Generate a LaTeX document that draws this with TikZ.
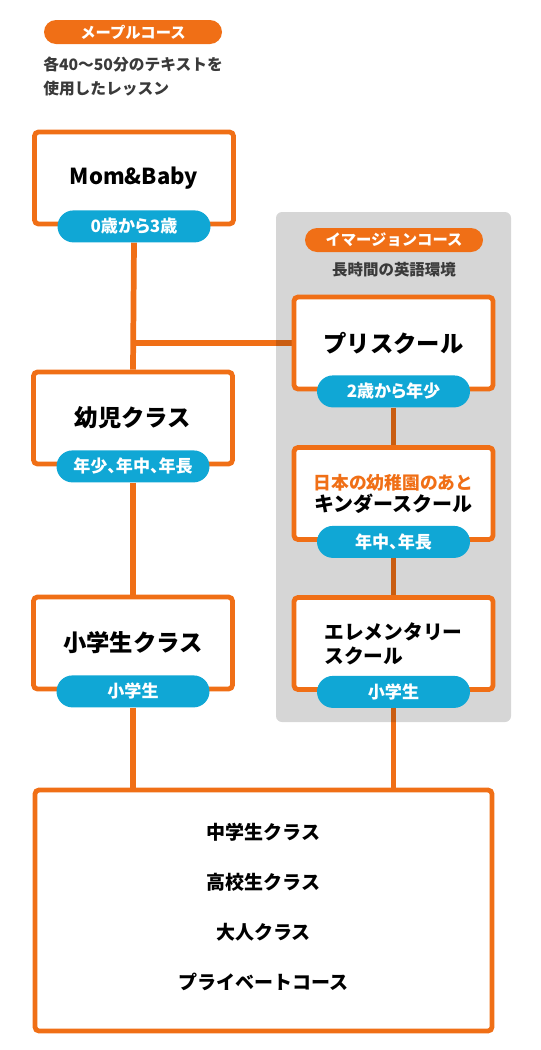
\documentclass[tikz,border=0pt]{standalone}
\usepackage{fontspec}
\setmainfont{Noto Sans CJK JP}
\usetikzlibrary{positioning}
\definecolor{maple}{HTML}{F06F16}
\definecolor{agebar}{HTML}{10A7D5}
\definecolor{notegray}{HTML}{3A3A3A}
\pgfdeclarelayer{lines}
\pgfdeclarelayer{panel}
\pgfsetlayers{lines,panel,main}
\begin{document}
\begin{tikzpicture}[x=0.75pt,y=-0.75pt,
        course/.style={draw=maple,line width=3.6pt,fill=white,rounded corners=3pt,
            minimum width=149.25pt,minimum height=69pt,inner sep=0pt,align=center,
            font=\fontsize{17.5}{22}\selectfont\bfseries},
        age/.style={fill=agebar,text=white,rounded corners=12pt,minimum width=114.75pt,
            minimum height=24pt,inner sep=0pt,
            font=\fontsize{12.8}{15}\selectfont\bfseries\addfontfeature{RawFeature=+palt}},
        tag/.style={fill=maple,text=white,rounded corners=9pt,minimum width=133.5pt,
            minimum height=18pt,inner sep=0pt,font=\fontsize{11.5}{13}\selectfont\bfseries},
        note/.style={text=notegray,inner sep=0pt,font=\fontsize{11.8}{18}\selectfont\bfseries},
        link/.style={draw=maple,line width=4.3pt}]
    \useasboundingbox (0,0) rectangle (540,1050);
    % maple course
    \node[tag] (mapletag) at (133,32) {メープルコース};
    \node[note,anchor=west,align=left] (maplenote) at (43,76) {各40〜50分のテキストを\\使用したレッスン};
    \node[course,font=\fontsize{16.5}{22}\selectfont\bfseries] (mombaby) at (134,178) {Mom\&Baby};
    \node[age] (mombabyage) at (mombaby.south) {0歳から3歳};
    \node[course] (youji) at (133,418) {幼児クラス};
    \node[age] (youjiage) at (youji.south) {年少、年中、年長};
    \node[course] (shou) at (133,643) {小学生クラス};
    \node[age] (shouage) at (shou.south) {小学生};
    % immersion course
    \begin{pgfonlayer}{panel}
        \fill[black,fill opacity=.16,rounded corners=4.5pt] (276,212) rectangle (511,722);
    \end{pgfonlayer}
    \node[tag] (immtag) at (394,240) {イマージョンコース};
    \node[note,font=\fontsize{11.6}{14}\selectfont\bfseries] (immnote) at (394,270) {長時間の英語環境};
    \node[course] (pre) at (393.5,343) {プリスクール};
    \node[age] (preage) at (pre.south) {2歳から年少};
    \node[course,font=\fontsize{15}{16.5}\selectfont\bfseries] (kinder) at (393.5,493.5)
        {{\fontsize{13.3}{16.5}\selectfont\color{maple}日本の幼稚園のあと}\\キンダースクール};
    \node[age] (kinderage) at (kinder.south) {年中、年長};
    \node[course,align=left,font=\fontsize{14.8}{18}\selectfont\bfseries] (elem) at (393.5,643.5)
        {エレメンタリー\\スクール};
    \node[age] (elemage) at (elem.south) {小学生};
    % upper classes
    \node[course,minimum width=342.75pt,minimum height=180.75pt] (lower) at (263.5,910.5) {};
    \foreach \t [count=\i] in {中学生クラス,高校生クラス,大人クラス,プライベートコース}
        \node[font=\fontsize{14.25}{16}\selectfont\bfseries] (lower\i) at (263.5,782+50*\i) {\t};
    \coordinate (junction) at (133,343);
    \begin{pgfonlayer}{lines}
        \draw[link] (mombabyage.south) -- (youji.north);
        \draw[link] (junction) -- (pre.west);
        \draw[link] (youjiage.south) -- (shou.north);
        \draw[link] (shouage.south) -- (shouage.south |- lower.north);
        \draw[link] (preage.south) -- (kinder.north);
        \draw[link] (kinderage.south) -- (elem.north);
        \draw[link] (elemage.south) -- (elemage.south |- lower.north);
    \end{pgfonlayer}
\end{tikzpicture}
\end{document}
